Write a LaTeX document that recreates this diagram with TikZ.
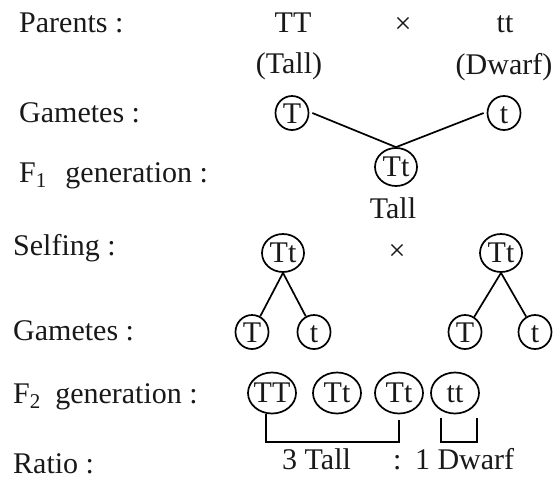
\documentclass[tikz,border=0pt]{standalone}
\usepackage{fontspec}
\setmainfont{Liberation Serif}
\usetikzlibrary{shapes.geometric}

% small text inside a drawn oval, centred on it
\newcommand{\inoval}[1]{\makebox[0pt]{#1}}

\begin{document}
\begin{tikzpicture}[x=1pt, y=-1pt,
  every node/.style={font=\fontsize{30}{36}\selectfont, inner sep=0pt, text=black!90},
  lbl/.style={anchor=base west},
  txt/.style={anchor=base},
  gamete/.style={draw, line width=1.7pt, ellipse, minimum width=33pt, minimum height=34pt,
                 text height=20pt, text depth=0pt},
  zygote/.style={draw, line width=1.7pt, ellipse, minimum width=42pt, minimum height=38pt,
                 text height=19pt, text depth=0pt},
  offspring/.style={draw, line width=1.7pt, ellipse, minimum width=48pt, minimum height=41pt,
                 text height=19pt, text depth=0pt},
  link/.style={line width=1.7pt},
]
\useasboundingbox[fill=white] (0,0) rectangle (556,480);

% row labels
\node[lbl] (lpar)  at (19,32)  {Parents :};
\node[lbl] (lgam1) at (19,122) {Gametes :};
\node[lbl] (lf1)   at (19,182) {F\textsubscript{1}\hspace{0.62em}generation :};
\node[lbl] (lself) at (13,255) {Selfing :};
\node[lbl] (lgam2) at (13,340) {Gametes :};
\node[lbl] (lf2)   at (13,403) {F\textsubscript{2}\hspace{0.48em}generation :};
\node[lbl] (lrat)  at (13,473) {Ratio :};

% parents
\node[txt] (pTT) at (293,32) {TT};
\node      (px1) at (403,25) {×};
\node[txt] (ptt) at (505,32) {tt};
\node[txt] (pTall)  at (289,73) {(Tall)};
\node[txt] (pDwarf) at (504,74) {(Dwarf)};

% parental gametes and F1
\node[gamete] (gT) at (292,113) {\inoval{T}};
\node[gamete] (gt) at (504,113) {\inoval{t}};
\node[zygote] (f1) at (396,167) {\inoval{Tt}};
\node[txt] (f1tall) at (393,218) {Tall};
\draw[link] ([xshift=3pt]gT.east) -- (f1.north);
\draw[link] ([xshift=-3pt]gt.west) -- (f1.north);

% selfing
\node[zygote] (sL) at (283,253) {\inoval{Tt}};
\node         (sx) at (397,252) {×};
\node[zygote] (sR) at (501,253) {\inoval{Tt}};

% gametes of the selfed plants
\node[gamete] (gL1) at (252,332) {\inoval{T}};
\node[gamete] (gL2) at (314,332) {\inoval{t}};
\node[gamete] (gR1) at (465,332) {\inoval{T}};
\node[gamete] (gR2) at (535,332) {\inoval{t}};
\draw[link] (sL.south) -- (gL1);
\draw[link] (sL.south) -- (gL2);
\draw[link] (sR.south) -- (gR1);
\draw[link] (sR.south) -- (gR2);

% F2 generation
\node[offspring] (fa) at (272,393) {\inoval{TT}};
\node[offspring] (fb) at (337,393) {\inoval{Tt}};
\node[offspring] (fc) at (399,393) {\inoval{Tt}};
\node[offspring] (fd) at (455,393) {\inoval{tt}};

% grouping brackets
\coordinate (b1) at (333,442);
\coordinate (b2) at (459,442);
\draw[link] ([xshift=-6pt]fa.south) |- (b1) -| ([yshift=-6pt]fc.south);
\draw[link] ([xshift=-14pt,yshift=-4pt]fd.south) |- (b2) -| ([xshift=22pt,yshift=-4pt]fd.south);

% ratio
\node[lbl] (r3) at (282,469) {3 Tall};
\node[lbl] (r1) at (393,469) {:\hspace{0.45em}1 Dwarf};
\end{tikzpicture}
\end{document}
